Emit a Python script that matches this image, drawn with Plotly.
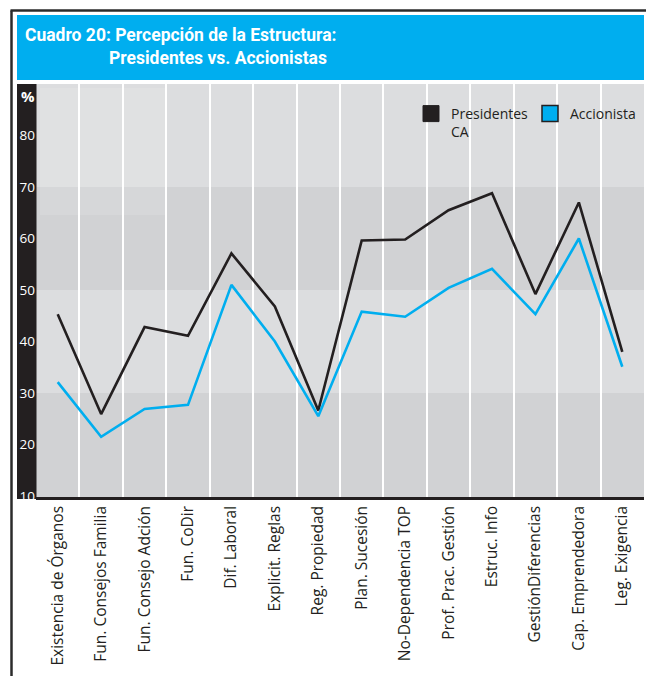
import plotly.graph_objects as go

# Cuadro 20: percepcion de la estructura, presidentes vs accionistas

categorias = ["Existencia de Órganos", "Fun. Consejos Familia", "Fun. Consejo Adción",
              "Fun. CoDir", "Dif. Laboral", "Explicit. Reglas", "Reg. Propiedad",
              "Plan. Sucesión", "No-Dependencia TOP", "Prof. Prac. Gestión",
              "Estruc. Info", "GestiónDiferencias", "Cap. Emprendedora", "Leg. Exigencia"]

presidentes = [45.3, 25.9, 42.8, 41.1, 57.1, 46.8, 26.6, 59.6, 59.8, 65.5, 68.8, 49.2, 67.0, 38.0]
accionista = [32.1, 21.5, 26.9, 27.7, 51.0, 40.0, 25.5, 45.8, 44.8, 50.4, 54.1, 45.3, 60.0, 35.1]

y_ticks = [10, 20, 30, 40, 50, 60, 70, 80]

NEGRO = "#231f20"
AZUL = "#00aeef"
CLARO = "#dcdddf"
OSCURO = "#d1d2d4"
FUENTE = "Open Sans, Noto Sans, sans-serif"
TITULO = "Roboto, sans-serif"

# geometria en pixeles -> coordenadas papel
W, H = 646, 676
L, R, T, B = 36, 644, 84, 497
def px(x):
    return (x - L) / (R - L)
def py(y):
    return (B - y) / (B - T)

fig = go.Figure()

fig.add_trace(go.Scatter(x=categorias, y=presidentes, mode="lines",
                         line=dict(color=NEGRO, width=2.6), showlegend=False))
fig.add_trace(go.Scatter(x=categorias, y=accionista, mode="lines",
                         line=dict(color=AZUL, width=2.6), showlegend=False))

# entradas de leyenda con cuadrados
fig.add_trace(go.Scatter(x=[None], y=[None], mode="markers", name="Presidentes<br>CA",
                         marker=dict(symbol="square", size=16, color=NEGRO,
                                     line=dict(color=NEGRO, width=1))))
fig.add_trace(go.Scatter(x=[None], y=[None], mode="markers", name="Accionista",
                         marker=dict(symbol="square", size=16, color=AZUL,
                                     line=dict(color=NEGRO, width=1.5))))

shapes = []
# bandas horizontales
for y0, y1 in [(0, 30), (50, 70)]:
    shapes.append(dict(type="rect", xref="paper", yref="y", x0=0, x1=1, y0=y0, y1=y1,
                       fillcolor=OSCURO, line_width=0, layer="below"))
# brillo arriba a la izquierda
shapes.append(dict(type="rect", xref="paper", yref="paper", x0=px(40), x1=px(166),
                   y0=py(215), y1=py(88), fillcolor="white", opacity=0.12,
                   line_width=0, layer="above"))
# franja negra del eje y
shapes.append(dict(type="rect", xref="paper", yref="paper", x0=px(17), x1=px(36.5),
                   y0=py(499), y1=py(84), fillcolor=NEGRO, line_width=0, layer="below"))
# caja del titulo
shapes.append(dict(type="rect", xref="paper", yref="paper", x0=px(17), x1=px(644),
                   y0=py(80), y1=py(15), fillcolor=AZUL, line_width=0))
# marco exterior
shapes.append(dict(type="line", xref="paper", yref="paper", x0=px(11.5), x1=px(11.5),
                   y0=py(10.5), y1=py(690), line=dict(color="#2b2b2b", width=2.5)))
shapes.append(dict(type="line", xref="paper", yref="paper", x0=px(10.5), x1=px(660),
                   y0=py(10.5), y1=py(10.5), line=dict(color="#2b2b2b", width=2.5)))

annotations = [
    dict(text="<b>Cuadro 20: Percepción de la Estructura:</b>", xref="paper", yref="paper",
         x=px(23), y=py(35), xanchor="left", yanchor="middle", showarrow=False,
         font=dict(family=TITULO, size=17.5, color="white")),
    dict(text="<b>Presidentes vs. Accionistas</b>", xref="paper", yref="paper",
         x=px(107), y=py(58), xanchor="left", yanchor="middle", showarrow=False,
         font=dict(family=TITULO, size=17.5, color="white")),
    dict(text="<b>%</b>", xref="paper", yref="paper", x=px(28), y=py(96),
         xanchor="center", yanchor="middle", showarrow=False,
         font=dict(family=FUENTE, size=15, color="white")),
]

fig.update_layout(
    width=W, height=H,
    margin=dict(l=L, r=W - R, t=T, b=H - B, pad=0, autoexpand=False),
    paper_bgcolor="white", plot_bgcolor=CLARO,
    font=dict(family=FUENTE, size=13, color=NEGRO),
    shapes=shapes, annotations=annotations,
    showlegend=True,
    legend=dict(orientation="h", x=px(411), y=py(98), xanchor="left", yanchor="top",
                bgcolor="rgba(0,0,0,0)", valign="top", itemwidth=30, entrywidth=74,
                font=dict(family=FUENTE, size=14, color=NEGRO)),
    xaxis=dict(type="category", categoryorder="array", categoryarray=categorias,
               range=[-0.5, 13.5], tickson="boundaries", showgrid=True,
               gridcolor="white", gridwidth=1.5, tickangle=-90, ticks="",
               showline=True, linecolor=NEGRO, linewidth=2.5,
               tickfont=dict(family=FUENTE, size=15.5, color=NEGRO), zeroline=False),
    yaxis=dict(range=[9.8, 90], tickvals=y_ticks, showgrid=False, zeroline=False,
               ticks="", tickfont=dict(family=FUENTE, size=13.5, color="white")),
)

fig.write_html("out.html", config={"displayModeBar": False},
               post_script="document.body.style.margin='0';document.body.style.overflow='hidden';")
